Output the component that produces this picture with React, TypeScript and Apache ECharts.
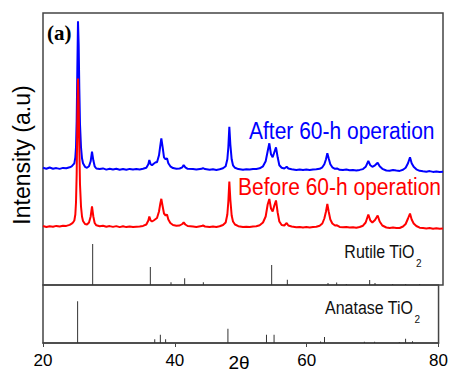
import React, { useEffect, useRef } from "react";
import * as echarts from "echarts";

// 2θ positions shared by both measured patterns
const TWO_THETA = [
  20.0, 20.5, 21.0, 21.5, 22.0, 22.5, 23.0, 23.5, 24.0, 24.3,
  24.5, 24.7, 24.85, 24.95, 25.05, 25.15, 25.25, 25.35, 25.45, 25.55,
  25.7, 25.85, 26.0, 26.3, 26.6, 26.9, 27.15, 27.35, 27.55, 27.75,
  28.0, 28.5, 29.0, 29.5, 30.0, 30.5, 31.0, 31.5, 32.0, 32.5,
  33.0, 33.5, 34.0, 34.5, 35.0, 35.5, 35.8, 35.95, 36.15, 36.35,
  36.6, 36.9, 37.1, 37.4, 37.6, 37.75, 37.95, 38.15, 38.4, 38.6,
  38.8, 39.1, 39.5, 40.0, 40.5, 40.9, 41.1, 41.35, 41.7, 42.5,
  43.0, 43.8, 44.0, 44.3, 45.0, 45.5, 46.0, 46.5, 47.0, 47.4,
  47.65, 47.8, 47.95, 48.1, 48.3, 48.5, 48.8, 49.3, 50.0, 50.5,
  51.0, 51.5, 52.0, 52.5, 53.0, 53.4, 53.7, 53.95, 54.2, 54.45,
  54.7, 54.95, 55.2, 55.45, 55.8, 56.2, 56.55, 56.8, 57.3, 58.0,
  58.5, 59.0, 59.5, 60.0, 60.5, 61.0, 61.5, 61.9, 62.2, 62.45,
  62.65, 62.85, 63.1, 63.4, 63.8, 64.1, 64.5, 65.0, 65.5, 66.0,
  66.5, 67.0, 67.5, 68.0, 68.4, 68.8, 69.1, 69.4, 69.8, 70.2,
  70.5, 70.9, 71.5, 72.0, 72.5, 73.0, 73.5, 74.0, 74.4, 74.75,
  75.05, 75.3, 75.6, 76.0, 76.5, 77.0, 77.5, 78.0, 78.5, 79.0,
  79.5, 80.0,
];

// "After 60-h operation" intensity above its own baseline (a.u.)
const AFTER_INT = [
  1.5, 0.5, 1.8, 0.6, 1.2, 0.4, 1.4, 1.0, 2.0, 3.0,
  4.5, 6, 12, 22, 48, 100, 148, 125, 80, 45,
  22, 11, 6, 2.5, 1.5, 3, 8, 17.6, 9, 3,
  0.8, 0.2, 0.9, -0.3, 0.6, -0.2, 0.5, -0.4, 0.3, -0.5,
  0.4, -0.3, 0.2, -0.2, 0.5, 1.5, 5, 9.3, 5, 4,
  5.5, 7, 7, 14, 24, 31, 22, 12, 10, 11,
  6, 3, 1.2, 0.6, 0.8, 2, 4.3, 2, 0.5, 0.2,
  -0.3, 0.5, 1.2, 0.2, -0.5, 0.1, -0.6, 0.0, 1.0, 3,
  10, 22, 42.6, 25, 10, 4, 1.5, 0.2, -0.5, 0,
  -0.3, 0.2, 0.4, 1.0, 3, 8, 18, 26, 15, 12,
  17, 22, 12, 4, 1.5, 0.8, 2.6, 0.8, 0, -0.6,
  -0.2, -0.8, -0.3, -0.7, -0.2, 0, 0.5, 2, 5, 10,
  16, 11, 5, 2, 0.5, 0.9, -0.5, -0.8, -0.3, -1.0,
  -0.8, -1.2, -0.6, 0.2, 2.5, 8.3, 4, 2.5, 4, 6.6,
  3, 0.5, -1.2, -1.5, -0.8, -1.3, -1.6, -0.5, 1.5, 6,
  12, 6, 2.5, 0, -1.5, -2.0, -2.4, -1.8, -2.6, -2.2,
  -2.8, -2.5,
];

// "Before 60-h operation" intensity above its own baseline (a.u.)
const BEFORE_INT = [
  0.5, -0.5, 0.3, -0.3, 0.6, 0.0, 0.8, 0.6, 1.6, 2.8,
  4, 6, 12, 24, 52, 104, 148, 122, 78, 42,
  20, 10, 5.5, 2.5, 2, 4, 10, 20, 10, 3.5,
  1.2, 0.3, 0.8, -0.2, 0.4, -0.4, 0.4, -0.6, 0.2, -0.6,
  0.1, -0.5, -0.2, 0.1, 0.6, 2, 6, 10, 6, 5,
  6, 7.5, 8.5, 15, 23, 27.7, 20, 13, 11, 12,
  7, 3.5, 1.5, 0.8, 1, 2.5, 4, 2, 0.5, 0,
  -0.4, 0.4, 1.0, 0, -0.6, 0, -0.5, 0.2, 1.5, 4,
  12, 25, 45, 27, 11, 5, 2, 0.3, -0.6, -0.2,
  -0.6, 0, 0.3, 1.2, 4, 10, 22, 27.5, 18, 15,
  21, 26, 14, 5, 1.5, 1, 3.5, 1, 0, -0.8,
  -0.4, -1, -0.6, -1, -0.5, -0.2, 0.8, 3, 8, 15,
  22.5, 15, 7, 3, 1, 1.2, -0.4, -0.8, -0.5, -1,
  -0.7, -1.3, -0.5, 0.8, 4, 12, 6, 4, 6.5, 11,
  5, 1, -1, -1.4, -0.9, -1.4, -1.5, 0, 2.5, 8,
  13, 7, 3, 0.5, -1.2, -1.6, -2, -1.6, -2.2, -1.8,
  -2.3, -2,
];

// vertical stacking offsets of the two patterns (a.u.)
const AFTER_OFFSET = 115.7;
const BEFORE_OFFSET = 58.5;

// reference stick patterns
const RUTILE_2THETA = [27.45, 36.1, 39.2, 41.25, 44.05, 54.3, 56.65, 62.75, 64.05, 65.5, 69.0, 69.8, 72.45, 74.4, 76.5];
const RUTILE_INT = [41, 18, 2.7, 6.7, 2.7, 20, 5.3, 2, 2.5, 1, 5, 2, 1, 1, 1];

const ANATASE_2THETA = [25.25, 36.95, 37.8, 38.6, 48.05, 53.9, 55.05, 62.1, 62.7, 68.75, 70.3, 74.05, 75.0, 76.05];
const ANATASE_INT = [41.7, 3.7, 8.3, 3.7, 14.3, 8.3, 8.3, 1.5, 6, 1.2, 1.3, 1, 4.3, 1.7];

const X_MIN = 20;
const X_MAX = 80;
const X_STEP = 20;

const FONT = "Liberation Sans, Arial, sans-serif";

export default function App() {
  const ref = useRef<HTMLDivElement>(null);

  useEffect(() => {
    if (!ref.current) return;
    const chart = echarts.init(ref.current, null, { renderer: "svg" });

    const after = TWO_THETA.map((t, i) => [t, AFTER_OFFSET + AFTER_INT[i]]);
    const before = TWO_THETA.map((t, i) => [t, BEFORE_OFFSET + BEFORE_INT[i]]);
    const rutile = RUTILE_2THETA.map((t, i) => [t, RUTILE_INT[i]]);
    const anatase = ANATASE_2THETA.map((t, i) => [t, ANATASE_INT[i]]);

    const frame = "#444";

    const txt = (o: any) => ({
      type: "text",
      silent: true,
      ...o,
      style: {
        fill: "#000",
        fontFamily: FONT,
        ...o.style,
        align: o.style.textAlign,
        verticalAlign: o.style.textVerticalAlign,
      },
    });

    chart.setOption({
      animation: false,
      backgroundColor: "#fff",
      grid: [
        { left: 43, top: 13, width: 400, height: 272, show: true, borderColor: frame, borderWidth: 1.5, backgroundColor: "transparent" },
        { left: 43, top: 285, width: 400, height: 58, show: true, borderColor: frame, borderWidth: 1.5, backgroundColor: "transparent" },
      ],
      xAxis: [
        {
          gridIndex: 0, type: "value", min: X_MIN, max: X_MAX, interval: X_STEP,
          axisLine: { show: false }, axisTick: { show: false }, axisLabel: { show: false }, splitLine: { show: false },
        },
        {
          gridIndex: 1, type: "value", min: X_MIN, max: X_MAX, interval: X_STEP,
          axisLine: { show: true, lineStyle: { color: frame, width: 1.5 } },
          axisTick: { show: true, inside: false, length: 4, lineStyle: { color: frame, width: 1 } },
          axisLabel: { show: true, fontSize: 17, color: "#000", fontFamily: FONT, margin: 9, showMinLabel: true, showMaxLabel: true },
          splitLine: { show: false },
        },
      ],
      yAxis: [
        { gridIndex: 0, type: "value", min: 0, max: 272, show: false, splitLine: { show: false } },
        { gridIndex: 1, type: "value", min: 0, max: 58, show: false, splitLine: { show: false } },
      ],
      series: [
        {
          type: "bar", xAxisIndex: 0, yAxisIndex: 0, data: rutile, barWidth: 1,
          itemStyle: { color: "#333" }, silent: true,
        },
        {
          type: "bar", xAxisIndex: 1, yAxisIndex: 1, data: anatase, barWidth: 1,
          itemStyle: { color: "#333" }, silent: true,
        },
        {
          type: "line", xAxisIndex: 0, yAxisIndex: 0, data: after, showSymbol: false, symbol: "none",
          lineStyle: { color: "#0000ff", width: 2 }, silent: true,
        },
        {
          type: "line", xAxisIndex: 0, yAxisIndex: 0, data: before, showSymbol: false, symbol: "none",
          lineStyle: { color: "#ff0000", width: 2 }, silent: true,
        },
      ],
      graphic: [
        txt({ x: 47, y: 33, style: { text: "(a)", fontSize: 21, fontWeight: "bold", fontFamily: "Liberation Serif, Times New Roman, serif", textAlign: "left", textVerticalAlign: "middle" } }),
        txt({ x: 22, y: 155, rotation: Math.PI / 2, style: { text: "Intensity (a.u)", fontSize: 23, textAlign: "center", textVerticalAlign: "middle" } }),
        txt({ x: 249, y: 131, scaleY: 1.1, style: { text: "After 60-h operation", fontSize: 21, fill: "#0000ff", textAlign: "left", textVerticalAlign: "middle" } }),
        txt({ x: 238, y: 187, scaleY: 1.1, style: { text: "Before 60-h operation", fontSize: 21, fill: "#ff0000", textAlign: "left", textVerticalAlign: "middle" } }),
        txt({ x: 414.5, y: 252, scaleY: 1.1, style: { text: "Rutile TiO", fontSize: 16, fill: "#111", textAlign: "right", textVerticalAlign: "middle" } }),
        txt({ x: 416, y: 263, style: { text: "2", fontSize: 10, fill: "#111", textAlign: "left", textVerticalAlign: "middle" } }),
        txt({ x: 413, y: 308.5, scaleY: 1.1, style: { text: "Anatase TiO", fontSize: 16, fill: "#111", textAlign: "right", textVerticalAlign: "middle" } }),
        txt({ x: 414.5, y: 319.5, style: { text: "2", fontSize: 10, fill: "#111", textAlign: "left", textVerticalAlign: "middle" } }),
        txt({ x: 239, y: 362, style: { text: "2θ", fontSize: 19, textAlign: "center", textVerticalAlign: "middle" } }),
      ],
    });

    return () => chart.dispose();
  }, []);

  return <div ref={ref} style={{ position: "absolute", left: 0, top: 0, width: 451, height: 373 }} />;
}
